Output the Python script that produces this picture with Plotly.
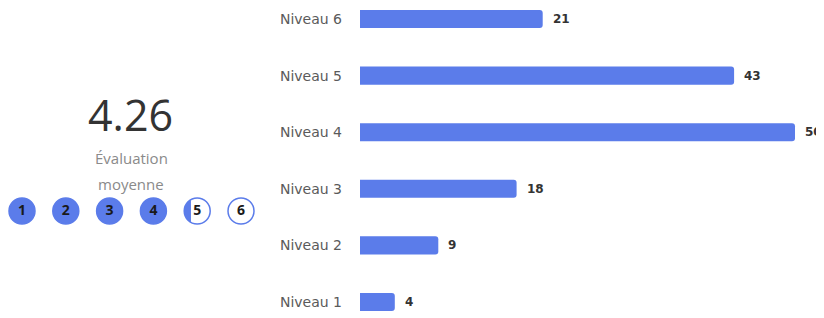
import numpy as np
import plotly.graph_objects as go

# ---- data ----
categories = ["Niveau 1", "Niveau 2", "Niveau 3", "Niveau 4", "Niveau 5", "Niveau 6"]
counts = [4, 9, 18, 50, 43, 21]
levels = [1, 2, 3, 4, 5, 6]
level_labels = ["1", "2", "3", "4", "5", "6"]
average = 4.26
avg_label = "4.26"
avg_caption = ["Évaluation", "moyenne"]

BLUE = "#5b7cea"
# the page body has an 8px margin; positions below are in window pixels
OFF = 8
W, H = 824 - OFF, 318 - OFF


def px(xw):
    return (xw - OFF) / W


def py(yw):
    return 1 - (yw - OFF) / H


fig = go.Figure()

fig.add_trace(go.Bar(
    x=counts, y=categories, orientation="h",
    marker=dict(color=BLUE, line=dict(width=0)),
    width=0.32, hoverinfo="skip", showlegend=False,
    xaxis="x", yaxis="y",
))

fill_colors = [BLUE if lv <= np.floor(average) else "white" for lv in levels]
fig.add_trace(go.Scatter(
    x=levels, y=[0] * len(levels), mode="markers+text",
    text=level_labels, textposition="middle center",
    textfont=dict(family="Open Sans", size=14, color="#1a1a1a", weight="bold"),
    marker=dict(size=26, color=fill_colors, line=dict(color=BLUE, width=1.5)),
    hoverinfo="skip", showlegend=False, xaxis="x2", yaxis="y2", cliponaxis=False,
))

partial_level = int(np.floor(average)) + 1
frac = average - np.floor(average)
r = 13.0
c = -r + 2 * r * frac
h = np.sqrt(max(r * r - c * c, 0))
a0 = np.arctan2(h, c)
angles = np.linspace(a0, 2 * np.pi - a0, 40)
pts = [(r * np.cos(t), r * np.sin(t)) for t in angles]
path = "M " + " L ".join(f"{a:.2f},{b:.2f}" for a, b in pts) + " Z"
shapes = [dict(
    type="path", xref="x2", yref="y2", xsizemode="pixel", ysizemode="pixel",
    xanchor=partial_level, yanchor=0, path=path,
    fillcolor=BLUE, line=dict(width=0), layer="above",
)]

annotations = []
for v, cat in zip(counts, categories):
    annotations.append(dict(
        x=v, y=cat, xref="x", yref="y", text=str(v), showarrow=False,
        xanchor="left", yanchor="middle", xshift=8,
        font=dict(family="DejaVu Sans", size=12, color="#333333", weight="bold"),
    ))

annotations.append(dict(
    x=px(130), y=py(114), xref="paper", yref="paper", text=avg_label,
    showarrow=False, xanchor="center", yanchor="middle",
    font=dict(family="Open Sans", size=43, color="#333333", weight=500),
))
for i, line in enumerate(avg_caption):
    annotations.append(dict(
        x=px(131), y=py(158 + 26 * i), xref="paper", yref="paper", text=line,
        showarrow=False, xanchor="center", yanchor="middle",
        font=dict(family="Open Sans", size=15, color="#8a8a8a"),
    ))

scale = 8.7           # px per count
row = 56.6            # px per category
x_left = 360          # window px where bars start
y_bottom_center = 302 # window px of the lowest row centre
r0 = -((318 - y_bottom_center) / row)
r1 = r0 + H / row

# rating circles: level 1 centred at 22px, level 6 at 241px (window)
c_first, c_last, c_right = 22, 241, 263
unit = (c_last - c_first) / (levels[-1] - levels[0])
x2_range = [levels[0] - (c_first - OFF) / unit, levels[-1] + (c_right - c_last) / unit]

fig.update_layout(
    width=W, height=H, autosize=False,
    margin=dict(l=0, r=0, t=0, b=0, pad=0),
    paper_bgcolor="white", plot_bgcolor="white",
    barcornerradius=3,
    xaxis=dict(domain=[px(x_left), 1], range=[0, (824 - x_left) / scale],
               visible=False, fixedrange=True),
    yaxis=dict(
        domain=[0, 1], range=[r0, r1], type="category",
        categoryorder="array", categoryarray=categories,
        showgrid=False, zeroline=False, showline=False, ticks="",
        ticklabelstandoff=17,
        tickfont=dict(family="DejaVu Sans", size=14, color="#5a5a5a"),
    ),
    xaxis2=dict(domain=[0, px(c_right)], range=x2_range, visible=False, anchor="y2"),
    yaxis2=dict(domain=[py(211) - 0.1, py(211) + 0.1], range=[-1, 1],
                visible=False, anchor="x2"),
    shapes=shapes,
    annotations=annotations,
)

fig.write_html("out.html")
